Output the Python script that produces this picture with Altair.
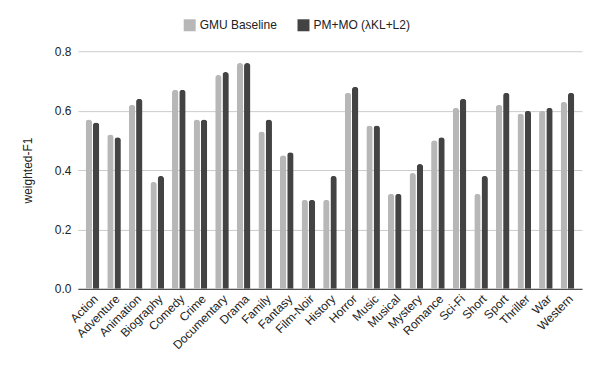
import altair as alt
import pandas as pd

genres = ["Action", "Adventure", "Animation", "Biography", "Comedy", "Crime",
          "Documentary", "Drama", "Family", "Fantasy", "Film-Noir", "History",
          "Horror", "Music", "Musical", "Mystery", "Romance", "Sci-Fi", "Short",
          "Sport", "Thriller", "War", "Western"]
gmu = [0.57, 0.52, 0.62, 0.36, 0.67, 0.57, 0.72, 0.76, 0.53, 0.45, 0.30, 0.30,
       0.66, 0.55, 0.32, 0.39, 0.50, 0.61, 0.32, 0.62, 0.59, 0.60, 0.63]
pmmo = [0.56, 0.51, 0.64, 0.38, 0.67, 0.57, 0.73, 0.76, 0.57, 0.46, 0.30, 0.38,
        0.68, 0.55, 0.32, 0.42, 0.51, 0.64, 0.38, 0.66, 0.60, 0.61, 0.66]
series = ["GMU Baseline", "PM+MO (λKL+L2)"]
colors = ["#b7b7b7", "#434343"]

rows = []
for g, a, b in zip(genres, gmu, pmmo):
    rows.append({"genre": g, "series": series[0], "value": a})
    rows.append({"genre": g, "series": series[1], "value": b})
df = pd.DataFrame(rows)

font = "Liberation Sans"

chart = alt.Chart(df).mark_bar(
    cornerRadiusTopLeft=3, cornerRadiusTopRight=3
).encode(
    x=alt.X("genre:N", sort=genres, title=None,
            scale=alt.Scale(paddingInner=0.37, paddingOuter=0.36),
            axis=alt.Axis(labelAngle=315, labelAlign="right", labelBaseline="top",
                          ticks=False, domainColor="#333333", labelFontSize=12,
                          labelColor="#222222", labelPadding=4)),
    xOffset=alt.XOffset("series:N", sort=series,
                        scale=alt.Scale(paddingInner=0.12)),
    y=alt.Y("value:Q", title="weighted-F1",
            scale=alt.Scale(domain=[0, 0.8]),
            axis=alt.Axis(values=[0, 0.2, 0.4, 0.6, 0.8], format=".1f",
                          domain=False, ticks=False, gridColor="#cccccc",
                          labelFontSize=12, labelColor="#222222",
                          titleFontSize=12, titleFontWeight="normal",
                          titleColor="#222222", labelPadding=7, titlePadding=20)),
    color=alt.Color("series:N", sort=series,
                    scale=alt.Scale(domain=series, range=colors),
                    legend=alt.Legend(title=None, orient="none", direction="horizontal",
                                      legendX=106, legendY=-32, symbolType="square",
                                      symbolSize=144, symbolStrokeWidth=0,
                                      labelFontSize=12, labelColor="#222222",
                                      columnPadding=20, symbolOpacity=1)),
).properties(
    width=505, height=238,
    autosize=alt.AutoSizeParams(type="none"),
    padding={"left": 70, "top": 43, "right": 10, "bottom": 80},
).configure(font=font).configure_view(stroke=None)

chart.save("out.html", embed_options={"renderer": "svg", "actions": False})
